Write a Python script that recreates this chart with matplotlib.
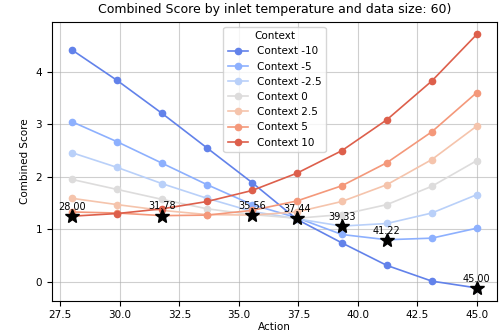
import numpy as np
import matplotlib
matplotlib.use("Agg")
import matplotlib.pyplot as plt
import seaborn as sns

actions = [28.00, 29.89, 31.78, 33.67, 35.56, 37.44, 39.33, 41.22, 43.11, 45.00]
contexts = [-10, -5, -2.5, 0, 2.5, 5, 10]

score_m10 = [4.42, 3.84, 3.21, 2.55, 1.89, 1.19, 0.74, 0.31, 0.01, -0.12]
score_m5 = [3.05, 2.67, 2.26, 1.85, 1.47, 1.22, 0.90, 0.80, 0.83, 1.02]
score_m25 = [2.46, 2.18, 1.87, 1.59, 1.34, 1.20, 1.06, 1.11, 1.31, 1.66]
score_0 = [1.95, 1.76, 1.57, 1.39, 1.28, 1.21, 1.28, 1.47, 1.82, 2.31]
score_25 = [1.59, 1.47, 1.36, 1.28, 1.27, 1.33, 1.53, 1.85, 2.33, 2.97]
score_5 = [1.33, 1.31, 1.26, 1.27, 1.36, 1.54, 1.83, 2.27, 2.86, 3.61]
score_10 = [1.25, 1.30, 1.39, 1.53, 1.74, 2.07, 2.50, 3.09, 3.83, 4.72]

scores = [score_m10, score_m5, score_m25, score_0, score_25, score_5, score_10]
colors = sns.color_palette("coolwarm", len(contexts))

fig, ax = plt.subplots(figsize=(5, 3.34), dpi=100)
fig.subplots_adjust(left=0.104, right=0.994, top=0.935, bottom=0.1)

for ctx, vals, c in zip(contexts, scores, colors):
    ax.plot(actions, vals, marker='o', markersize=4.5, linewidth=1.2,
            color=c, label=f"Context {ctx}")

# best action per context
for vals in scores:
    i = int(np.argmin(vals))
    ax.plot(actions[i], vals[i], marker='*', color='black', markersize=10,
            linestyle='none', zorder=5)
    ax.text(actions[i], vals[i] + 0.08, f"{actions[i]:.2f}", ha='center',
            va='bottom', fontsize=7)

ax.set_title("Combined Score by inlet temperature and data size: 60)", fontsize=9)
ax.set_xlabel("Action", fontsize=7.5, labelpad=1)
ax.set_ylabel("Combined Score", fontsize=7.5)
ax.tick_params(labelsize=7.5)
ax.grid(True, alpha=0.6)
ax.legend(title="Context", loc='upper center', fontsize=7.5, title_fontsize=7.5)

fig.savefig("out.png", dpi=100)
